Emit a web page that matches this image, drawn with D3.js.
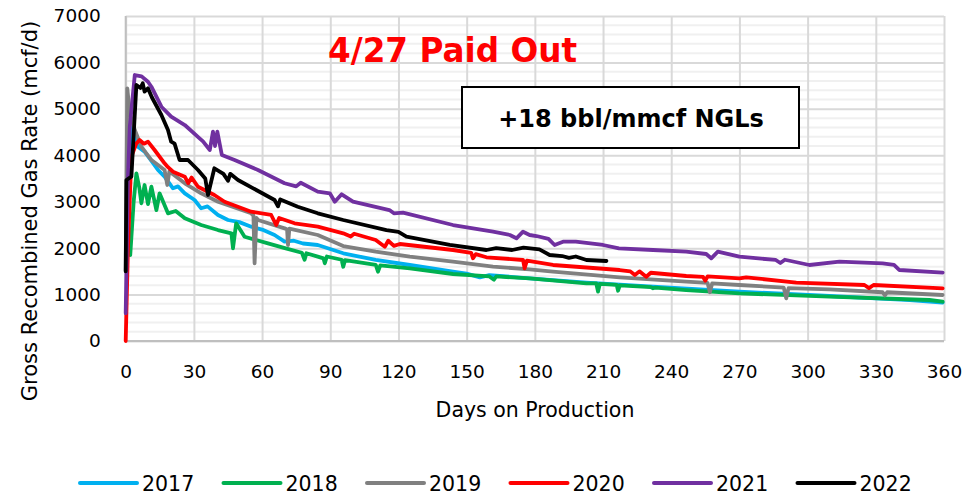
<!DOCTYPE html>
<html>
<head>
<meta charset="utf-8">
<script src="https://cdn.jsdelivr.net/npm/d3@7"></script>
<style>
  body { margin: 0; background: #fff; }
  svg { font-family: "DejaVu Sans", Tahoma, sans-serif; }
</style>
</head>
<body>
<div id="chart"></div>
<script>
// days on production vs gas rate (mcf/d)
const years = ['2017', '2018', '2019', '2020', '2021', '2022'];
const colors = ['#00b0f0', '#00b050', '#808080', '#ff0000', '#7030a0', '#000000'];

const s2017 = [[1,3600],[2.2,4400],[3.2,4615],[5.4,4185],[8.3,4077],[11,3900],[14.2,3683],[17.1,3539],
  [20.8,3289],[23,3330],[26,3181],[30.3,3037],[33.2,2858],[36,2900],[40.6,2714],[45,2606],[50,2560],
  [55.2,2462],[60,2400],[65.5,2283],[69.9,2139],[74,2160],[78,2100],[84.5,2068],[95.7,1889],[110,1745],
  [125,1637],[144,1493],[150,1450],[155.8,1372],[160,1420],[177.7,1350],[202.7,1256],[232,1170],
  [270,1062],[309.6,969],[330,920],[345,880],[359.4,825]];

const s2018 = [[2,1850],[3.5,3000],[4.7,3611],[6,3300],[6.9,2966],[8.3,3360],[9.8,2950],[11.3,3323],
  [13.5,2821],[14.9,3181],[18.6,2750],[22,2800],[26,2642],[33.2,2498],[40.6,2390],[46.5,2320],[47.2,1997],
  [48.6,2535],[52.3,2246],[62.6,2104],[70,2000],[77.5,1900],[78.7,1750],[79.5,1889],[84.5,1816],[87,1780],
  [87.6,1673],[88.5,1820],[95,1750],[95.7,1600],[96.5,1740],[110,1640],[111,1493],[112,1630],[125,1566],
  [144,1443],[160,1390],[162,1320],[163,1390],[177.7,1350],[202.7,1242],[207,1242],[207.8,1062],
  [208.6,1230],[216,1210],[216.6,1083],[217.4,1200],[231,1160],[232,1135],[233,1150],[246.6,1098],
  [270,1027],[309.6,954],[353.6,883],[359.4,846]];

const s2019 = [[0,1500],[0.7,5442],[1.8,4904],[4,4544],[6.9,4185],[11.3,3898],[17.1,3683],[18.3,3360],
  [19.2,3650],[26,3397],[33.2,3181],[40.6,3000],[55.2,2750],[56.2,2700],[56.7,1673],[57.5,2650],
  [58.2,2606],[69.9,2427],[71,2400],[71.4,2068],[72,2420],[84.5,2283],[95.7,2046],[110,1923],[125,1816],
  [144,1708],[161.6,1600],[177.7,1544],[188,1493],[217.3,1372],[246.6,1277],[256,1250],[257,1050],
  [258,1240],[270,1206],[289.5,1150],[290.6,920],[291.6,1140],[309.6,1113],[333,1050],[334,980],
  [335,1050],[359.4,991]];

const s2020 = [[0,0],[1,2000],[2.5,3970],[4.7,4258],[6.1,4329],[8,4250],[9.8,4293],[12.7,4114],
  [17.1,3827],[18.5,3750],[20.8,3647],[26,3539],[27.5,3400],[29,3520],[31.8,3323],[39,3145],[43.5,3000],
  [55.2,2785],[64,2714],[66.2,2498],[67.5,2650],[74.3,2535],[84.5,2462],[95.7,2320],[99,2250],
  [100.5,2310],[110,2175],[114,2031],[115.5,2160],[118,2050],[120.6,2089],[144,1960],[152,1900],
  [152.8,1781],[154,1870],[158.7,1803],[174.8,1745],[175.5,1566],[176.5,1730],[188,1637],[217.3,1529],
  [222,1500],[224,1420],[226,1500],[229,1385],[231,1470],[246.6,1400],[254,1380],[255,1300],[256,1390],
  [270,1350],[273,1372],[295,1256],[325,1206],[327,1140],[329,1206],[359.4,1135]];

const s2021 = [[0,600],[1,3500],[1.8,4615],[4,5729],[7,5700],[9.8,5585],[11.3,5477],[15.7,5046],
  [20,4831],[26,4652],[32.5,4366],[34,4300],[37,4114],[38.4,4508],[39.3,4200],[40.3,4508],[42.3,4006],
  [47.9,3898],[58.2,3683],[69.9,3397],[75,3330],[77,3409],[84.5,3216],[89.8,3181],[92,3000],[95,3160],
  [100,3000],[116,2821],[118,2750],[122,2763],[144,2498],[161.6,2354],[169,2283],[171.9,2212],
  [174.8,2354],[177.7,2283],[180.7,2261],[186,2200],[188.7,2068],[192.4,2139],[198,2139],[210,2068],
  [217,1997],[232,1960],[246.6,1923],[255.4,1874],[257.6,1781],[260.5,1923],[270,1816],[286,1745],
  [288,1680],[290,1750],[300.8,1637],[314,1708],[333,1673],[338,1640],[340.4,1529],[359.4,1471]];

const s2022 = [[0,1500],[0.3,3467],[2.5,3539],[4.7,5514],[6.5,5450],[7.5,5550],[8.3,5370],[9.8,5442],
  [11.5,5250],[15.7,4868],[18.6,4544],[20,4293],[21.5,4250],[23.7,3898],[27.4,3898],[31.8,3683],
  [35,3500],[36.2,3145],[39,3720],[43,3600],[45,3450],[46,3600],[49.4,3467],[65.5,3037],[67,2900],
  [68,3050],[75.7,2893],[84.5,2750],[95.7,2606],[114.7,2390],[120,2350],[123.5,2246],[142.6,2068],
  [158.7,1960],[163,2000],[170,1960],[175,2010],[182,1975],[186.5,1852],[192,1830],[195,1790],
  [198,1820],[202.7,1745],[211.5,1723]];

const seriesData = [s2017, s2018, s2019, s2020, s2021, s2022];
const xTicks = d3.range(0, 361, 30);
const yTicks = d3.range(0, 7001, 1000);
const yMinor = d3.range(0, 7001, 200);

const width = 974, height = 497;
const margin = { left: 125.7, right: 30, top: 16, bottom: 156 };

const svg = d3.select('#chart').append('svg')
  .attr('width', width)
  .attr('height', height);

const x = d3.scaleLinear().domain([0, 360]).range([margin.left, width - margin.right]);
const y = d3.scaleLinear().domain([0, 7000]).range([height - margin.bottom, margin.top]);

// minor grid
svg.append('g')
  .selectAll('line')
  .data(yMinor.filter(v => v % 1000 !== 0))
  .enter().append('line')
  .attr('x1', x(0)).attr('x2', x(360))
  .attr('y1', d => y(d)).attr('y2', d => y(d))
  .attr('stroke', '#f0f0f0')
  .attr('stroke-width', 2);

// major grid
svg.append('g')
  .call(d3.axisLeft(y).tickValues(yTicks).tickSize(-(x(360) - x(0))).tickFormat(''))
  .attr('transform', `translate(${x(0)},0)`)
  .call(g => g.select('.domain').remove())
  .call(g => g.selectAll('line').attr('stroke', '#d9d9d9').attr('stroke-width', 2));

svg.append('g')
  .call(d3.axisBottom(x).tickValues(xTicks).tickSize(-(y(0) - y(7000))).tickFormat(''))
  .attr('transform', `translate(0,${y(0)})`)
  .call(g => g.select('.domain').remove())
  .call(g => g.selectAll('line').attr('stroke', '#d9d9d9').attr('stroke-width', 2));

// axis lines
svg.append('line')
  .attr('x1', x(0)).attr('x2', x(360)).attr('y1', y(0)).attr('y2', y(0))
  .attr('stroke', '#bfbfbf').attr('stroke-width', 2);
svg.append('line')
  .attr('x1', x(0)).attr('x2', x(0)).attr('y1', y(0)).attr('y2', y(7000))
  .attr('stroke', '#bfbfbf').attr('stroke-width', 2);

// tick labels
svg.append('g')
  .call(d3.axisLeft(y).tickValues(yTicks).tickSize(0).tickPadding(25).tickFormat(d3.format('d')))
  .attr('transform', `translate(${x(0)},0)`)
  .call(g => g.select('.domain').remove())
  .call(g => g.selectAll('text').attr('font-size', 18.5).attr('fill', '#000')
    .attr('font-family', '"DejaVu Sans", sans-serif'));

svg.append('g')
  .call(d3.axisBottom(x).tickValues(xTicks).tickSize(0).tickPadding(24))
  .attr('transform', `translate(0,${y(0)})`)
  .call(g => g.select('.domain').remove())
  .call(g => g.selectAll('text').attr('font-size', 18.5).attr('fill', '#000')
    .attr('font-family', '"DejaVu Sans", sans-serif'));

// axis titles
svg.append('text')
  .attr('transform', 'translate(37,211) rotate(-90)')
  .attr('text-anchor', 'middle')
  .attr('font-size', 21)
  .text('Gross Recombined Gas Rate (mcf/d)');

svg.append('text')
  .attr('x', 535).attr('y', 417)
  .attr('text-anchor', 'middle')
  .attr('font-size', 20.5)
  .text('Days on Production');

// series
const line = d3.line()
  .x(d => x(d[0]))
  .y(d => y(d[1]));

svg.append('g')
  .selectAll('path')
  .data(seriesData)
  .enter().append('path')
  .attr('d', line)
  .attr('fill', 'none')
  .attr('stroke', (d, i) => colors[i])
  .attr('stroke-width', 3.8)
  .attr('stroke-linejoin', 'round')
  .attr('stroke-linecap', 'round');

// annotations
svg.append('text')
  .attr('x', 328).attr('y', 62)
  .attr('font-size', 34)
  .attr('font-weight', 'bold')
  .attr('fill', '#ff0000')
  .attr('textLength', 249)
  .attr('lengthAdjust', 'spacingAndGlyphs')
  .text('4/27 Paid Out');

svg.append('rect')
  .attr('x', 462).attr('y', 87)
  .attr('width', 337).attr('height', 61)
  .attr('fill', '#fff')
  .attr('stroke', '#000')
  .attr('stroke-width', 2);

svg.append('text')
  .attr('x', 631).attr('y', 127)
  .attr('text-anchor', 'middle')
  .attr('font-size', 24)
  .attr('font-weight', 'bold')
  .text('+18 bbl/mmcf NGLs');

// legend
const legend = svg.append('g')
  .selectAll('g')
  .data(years)
  .enter().append('g')
  .attr('transform', (d, i) => `translate(${80 + i * 143.5},483)`);

legend.append('line')
  .attr('x1', 0).attr('x2', 57)
  .attr('stroke', (d, i) => colors[i])
  .attr('stroke-width', 4)
  .attr('stroke-linecap', 'round');

legend.append('text')
  .attr('x', 62).attr('y', 7.5)
  .attr('font-size', 20.5)
  .text(d => d);
</script>
</body>
</html>
